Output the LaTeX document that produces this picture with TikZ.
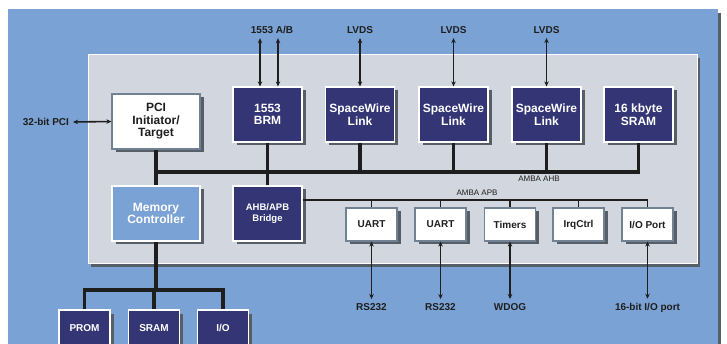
\documentclass[tikz,border=0pt]{standalone}
\usepackage{fontspec}
\setmainfont{Liberation Sans}
\usetikzlibrary{arrows.meta,positioning,shadows}
\definecolor{bgblue}{RGB}{123,162,212}
\definecolor{chipnavy}{RGB}{51,53,117}
\definecolor{panelgray}{RGB}{210,214,222}
\definecolor{shadowgray}{RGB}{88,94,102}
\definecolor{edgegray}{RGB}{112,130,148}
\definecolor{inkblack}{RGB}{30,30,30}
\tikzset{core/.style={rectangle, draw=white, line width=1.2pt, fill=chipnavy, text=white, font=\fontsize{12}{12.5}\selectfont\bfseries, align=center, minimum width=69pt, minimum height=55pt, inner sep=1pt, drop shadow={shadow xshift=3.5pt, shadow yshift=-3.5pt, fill=shadowgray, opacity=1}}, hostbox/.style={core, fill=white, draw=edgegray, text=inkblack, minimum width=88pt}, memctrl/.style={core, fill=bgblue, minimum width=88pt}, periph/.style={core, fill=white, draw=edgegray, text=inkblack, font=\fontsize{10}{11}\selectfont\bfseries, minimum width=51pt, minimum height=33pt}, extmem/.style={core, font=\fontsize{10}{11}\selectfont\bfseries, minimum width=51pt, minimum height=36pt}, iolabel/.style={font=\fontsize{10}{11}\selectfont\bfseries, text=inkblack, inner sep=1pt, outer sep=3pt}, buslabel/.style={font=\fontsize{8}{9}\selectfont, text=inkblack, inner sep=1pt}, bidir/.style={{Stealth[length=5pt,width=4.5pt]}-{Stealth[length=5pt,width=4.5pt]}, line width=1.6pt, draw=inkblack}, ahb/.style={line width=3.8pt, draw=inkblack}, apb/.style={line width=1.6pt, draw=inkblack}}
\begin{document}
\begin{tikzpicture}[x=1pt,y=-1pt]
\useasboundingbox (0,0) rectangle (727,344);
% board and chip area
\fill[shadowgray] (11,13) rectangle (721,350);
\fill[bgblue] (8,9) rectangle (718,350);
\fill[shadowgray] (91,58) rectangle (700,267);
\filldraw[fill=panelgray, draw=white, line width=1pt] (88,55) rectangle (697,264);
% AHB masters and slaves
\node[hostbox] (pci) at (156,121.5) {PCI\\Initiator/\\Target};
\node[core] (brm) at (267.5,114.5) {1553\\BRM};
\node[core] (sw1) at (360,114.5) {SpaceWire\\Link};
\node[core] (sw2) at (453.5,114.5) {SpaceWire\\Link};
\node[core] (sw3) at (546.5,114.5) {SpaceWire\\Link};
\node[core] (sram) at (638.5,114.5) {16 kbyte\\SRAM};
\node[memctrl] (mem) at (156,213.5) {Memory\\Controller};
\node[core, font=\fontsize{9.5}{11}\selectfont\bfseries] (bridge) at (267.5,213.5) {AHB/APB\\Bridge};
% APB peripherals
\node[periph] (uart1) at (371.5,224.5) {UART};
\node[periph] (uart2) at (440.5,224.5) {UART};
\node[periph] (timers) at (510,224.5) {Timers};
\node[periph] (irqctrl) at (578.5,224.5) {IrqCtrl};
\node[periph] (ioport) at (647.5,224.5) {I/O Port};
% external memory
\node[extmem] (prom) at (84.5,328) {PROM};
\node[extmem] (sramb) at (154,328) {SRAM};
\node[extmem] (iob) at (223,328) {I/O};
% outside signals
\node[iolabel, anchor=east] (pcilab) at (73,122) {32-bit PCI};
\node[iolabel, anchor=base] (lab1553) at (272,34) {1553 A/B};
\node[iolabel, anchor=base] (lvds1) at (360,34) {LVDS};
\node[iolabel, anchor=base] (lvds2) at (453.5,34) {LVDS};
\node[iolabel, anchor=base] (lvds3) at (546.5,34) {LVDS};
\node[iolabel, anchor=base] (rs1) at (371.5,310) {RS232};
\node[iolabel, anchor=base] (rs2) at (440.5,310) {RS232};
\node[iolabel, anchor=base] (wdog) at (510,310) {WDOG};
\node[iolabel, anchor=base] (gpio) at (647.5,310) {16-bit I/O port};
\node[buslabel] (ahblab) at (539,179) {AMBA AHB};
\node[buslabel] (apblab) at (477,193) {AMBA APB};
% AHB bus
\coordinate (ahbL) at (156,172);
\coordinate (ahbR) at (638.5,172);
\draw[ahb] (pci.south) -- (ahbL) -- (ahbR) -- (sram.south);
\foreach \c in {brm,sw1,sw2,sw3} \draw[ahb] (\c.south) -- (\c.south |- ahbL);
\foreach \c in {mem,bridge} \draw[ahb] (\c.north) -- (\c.north |- ahbL);
% APB bus
\coordinate (apbR) at (647.5,200);
\draw[apb] (apbR -| bridge.east) -- (apbR) -- (ioport.north);
\foreach \c in {uart1,uart2,timers,irqctrl} \draw[apb] (\c.north) -- (\c.north |- apbR);
% memory bus
\coordinate (memjoin) at (156,290);
\draw[ahb] (mem.south) -- (memjoin);
\draw[ahb] (prom.north) |- (memjoin) -| (iob.north);
\draw[ahb] (sramb.north) -- (sramb.north |- memjoin);
% external links
\draw[bidir] (pcilab.east) -- (pci.west);
\draw[bidir] ([xshift=-7.5pt]brm.north |- lab1553.south) -- ([xshift=-7.5pt]brm.north);
\draw[bidir] ([xshift=10.5pt]brm.north |- lab1553.south) -- ([xshift=10.5pt]brm.north);
\draw[bidir] (lvds1.south) -- (sw1.north);
\draw[bidir] (lvds2.south) -- (sw2.north);
\draw[bidir] (lvds3.south) -- (sw3.north);
\draw[bidir] (uart1.south) -- (rs1.north);
\draw[bidir] (uart2.south) -- (rs2.north);
\draw[bidir] (timers.south) -- (wdog.north);
\draw[bidir] (ioport.south) -- (gpio.north);
\end{tikzpicture}
\end{document}
